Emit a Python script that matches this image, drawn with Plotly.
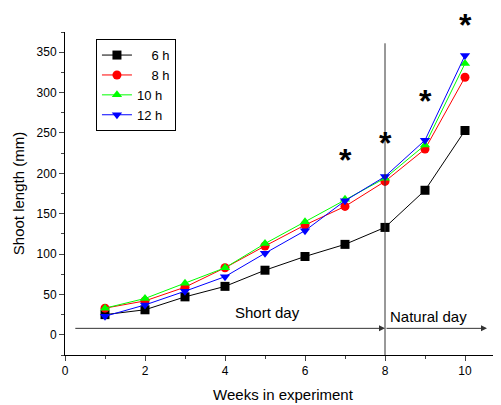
import plotly.graph_objects as go

weeks = [1, 2, 3, 4, 5, 6, 7, 8, 9, 10]
h6 = [25, 31, 47, 60, 80, 97, 112, 133, 179, 253]
h8 = [33, 42, 59, 83, 110, 136, 159, 190, 230, 319]
h10 = [33, 45, 64, 83, 113, 140, 168, 194, 235, 336]
h12 = [23, 37, 54, 72, 101, 129, 166, 196, 241, 346]
series_names = ["6 h", "8 h", "10 h", "12 h"]
star_x = [7, 8, 9, 10]
star_y = [223, 244, 296, 390]

Y_MIN, Y_MAX = -25, 375

fig = go.Figure()
specs = [(h6, "black", "square"), (h8, "red", "circle"),
         (h10, "#00ff00", "triangle-up"), (h12, "blue", "triangle-down")]
labels = ["\u2007\u20076 h", "\u2007\u20078 h", "10 h", "12 h"]
for (vals, col, sym), lab in zip(specs, labels):
    fig.add_trace(go.Scatter(x=weeks, y=vals, mode="lines+markers", name=lab,
                             line=dict(color=col, width=1),
                             marker=dict(symbol=sym, size=9, color=col)))

for sx, sy in zip(star_x, star_y):
    fig.add_annotation(x=sx, xref="x", y=(sy - Y_MIN) / (Y_MAX - Y_MIN), yref="paper",
                       text="<b>*</b>", showarrow=False, yanchor="middle",
                       yshift=-5, font=dict(size=32, color="black", family="Arial"))

fig.add_shape(type="line", x0=8, x1=8, y0=Y_MIN, y1=361, line=dict(color="#333", width=1))

arrow = dict(showarrow=True, arrowhead=2, arrowsize=1.2, arrowwidth=1, arrowcolor="#333",
             xref="x", yref="y", axref="x", ayref="y", text="")
fig.add_annotation(x=8, y=8, ax=0.22, ay=8, **arrow)
fig.add_annotation(x=10.55, y=8, ax=8, ay=8, **arrow)
fig.add_annotation(x=5.06, y=28, text="Short day", showarrow=False,
                   font=dict(size=15, color="black", family="Arial"))
fig.add_annotation(x=9.08, y=23, text="Natural day", showarrow=False,
                   font=dict(size=15, color="black", family="Arial"))

fig.update_layout(
    width=501, height=405,
    margin=dict(l=57, r=8, t=24, b=58, autoexpand=False),
    paper_bgcolor="white", plot_bgcolor="white",
    font=dict(family="Arial", size=12, color="black"),
    legend=dict(x=0.071, y=0.978, xanchor="left", yanchor="top",
                bordercolor="black", borderwidth=1, bgcolor="white",
                font=dict(size=13, family="Arial"), itemwidth=30,
                tracegroupgap=0),
    showlegend=True,
)
fig.update_xaxes(range=[0, 10.9], tickvals=[0, 2, 4, 6, 8, 10], ticks="outside",
                 ticklen=5, showline=True, linecolor="black", linewidth=1,
                 showgrid=False, zeroline=False, automargin=False,
                 minor=dict(tickvals=[1, 3, 5, 7, 9], ticks="outside", ticklen=3),
                 title=dict(text="Weeks in experiment", font=dict(size=15), standoff=12))
fig.update_yaxes(range=[Y_MIN, Y_MAX], tickvals=[0, 50, 100, 150, 200, 250, 300, 350],
                 ticks="outside", ticklen=5, showline=True, linecolor="black", linewidth=1,
                 showgrid=False, zeroline=False, automargin=False,
                 minor=dict(tickvals=[-25, 25, 75, 125, 175, 225, 275, 325, 375],
                            ticks="outside", ticklen=3),
                 title=dict(text="Shoot length (mm)", font=dict(size=15), standoff=8))

fig.write_html("out.html")
